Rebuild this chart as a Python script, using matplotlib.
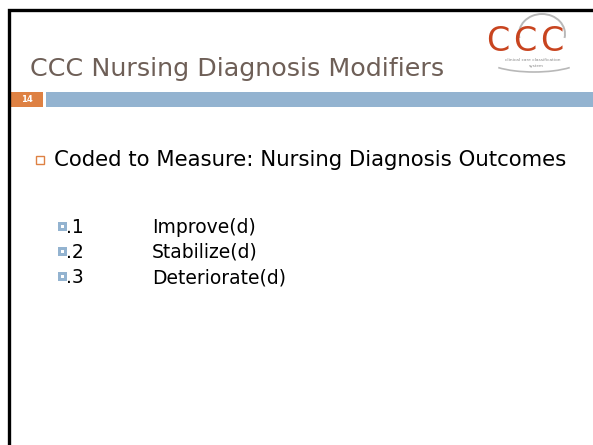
import matplotlib
matplotlib.use("Agg")
import matplotlib.pyplot as plt
from matplotlib.patches import Rectangle, Arc

W, H = 593, 445

title = "CCC Nursing Diagnosis Modifiers"
slide_no = "14"
bullet = "Coded to Measure: Nursing Diagnosis Outcomes"
codes = [".1", ".2", ".3"]
outcomes = ["Improve(d)", "Stabilize(d)", "Deteriorate(d)"]
logo_letters = ["C", "C", "C"]

FONT = "DejaVu Sans"

fig = plt.figure(figsize=(W / 100, H / 100), dpi=100)
ax = fig.add_axes([0, 0, 1, 1])
ax.set_xlim(0, W)
ax.set_ylim(H, 0)
ax.axis("off")

renderer = fig.canvas.get_renderer()


def fit_text(x, y, s, width, size, **kw):
    # place text and rescale it until it spans the wanted pixel width
    t = ax.text(x, y, s, fontsize=size, family=FONT, **kw)
    w = t.get_window_extent(renderer).width
    t.set_fontsize(size * width / w)
    return t


# slide frame
ax.plot([9, 9, W], [H, 10, 10], color="black", lw=2.4, solid_joinstyle="miter")

# header band
ax.add_patch(Rectangle((11, 92), 32, 15, color="#DE8143", lw=0))
ax.add_patch(Rectangle((46, 92), W - 46, 15, color="#93B3D0", lw=0))
ax.text(27, 99.5, slide_no, color="white", fontsize=6, weight="bold",
        ha="center", va="center", family=FONT)

# title
fit_text(30, 76, title, 415, 20, color="#6E5F57", va="baseline")

# logo (y axis is inverted, so 180..360 is the upper half)
ax.add_patch(Arc((542, 34), 46, 40, theta1=170, theta2=370, color="#B8B8B8", lw=1.4))
ax.add_patch(Arc((534, 58), 98, 28, theta1=15, theta2=165, color="#B8B8B8", lw=1.2))
for i, letter in enumerate(logo_letters):
    ax.text(498 + 27 * i, 51, letter, color="#C8441F", fontsize=24,
            ha="center", va="baseline", family=FONT)
ax.text(533, 60, "clinical care classification", color="#8A8A8A", fontsize=3.2,
        ha="center", va="center", family=FONT)
ax.text(536, 66, "system", color="#8A8A8A", fontsize=3, ha="center", va="center",
        family=FONT)

# main bullet
ax.add_patch(Rectangle((36, 156), 8, 8, fill=False, ec="#DE8143", lw=1.0))
fit_text(54, 166, bullet, 514, 14, color="black", va="baseline")

# sub bullets
for i, (c, o) in enumerate(zip(codes, outcomes)):
    y = 227 + 25 * i
    ax.add_patch(Rectangle((58, y - 5), 8.5, 8.5, color="#93B3D0", lw=0))
    ax.add_patch(Rectangle((60.7, y - 2.3), 3, 3, color="white", lw=0))
    ax.text(66, y + 6, c, color="black", fontsize=13.5, family=FONT, va="baseline")
    ax.text(152, y + 6, o, color="black", fontsize=13.5, family=FONT, va="baseline")

fig.savefig("out.png", dpi=100)
